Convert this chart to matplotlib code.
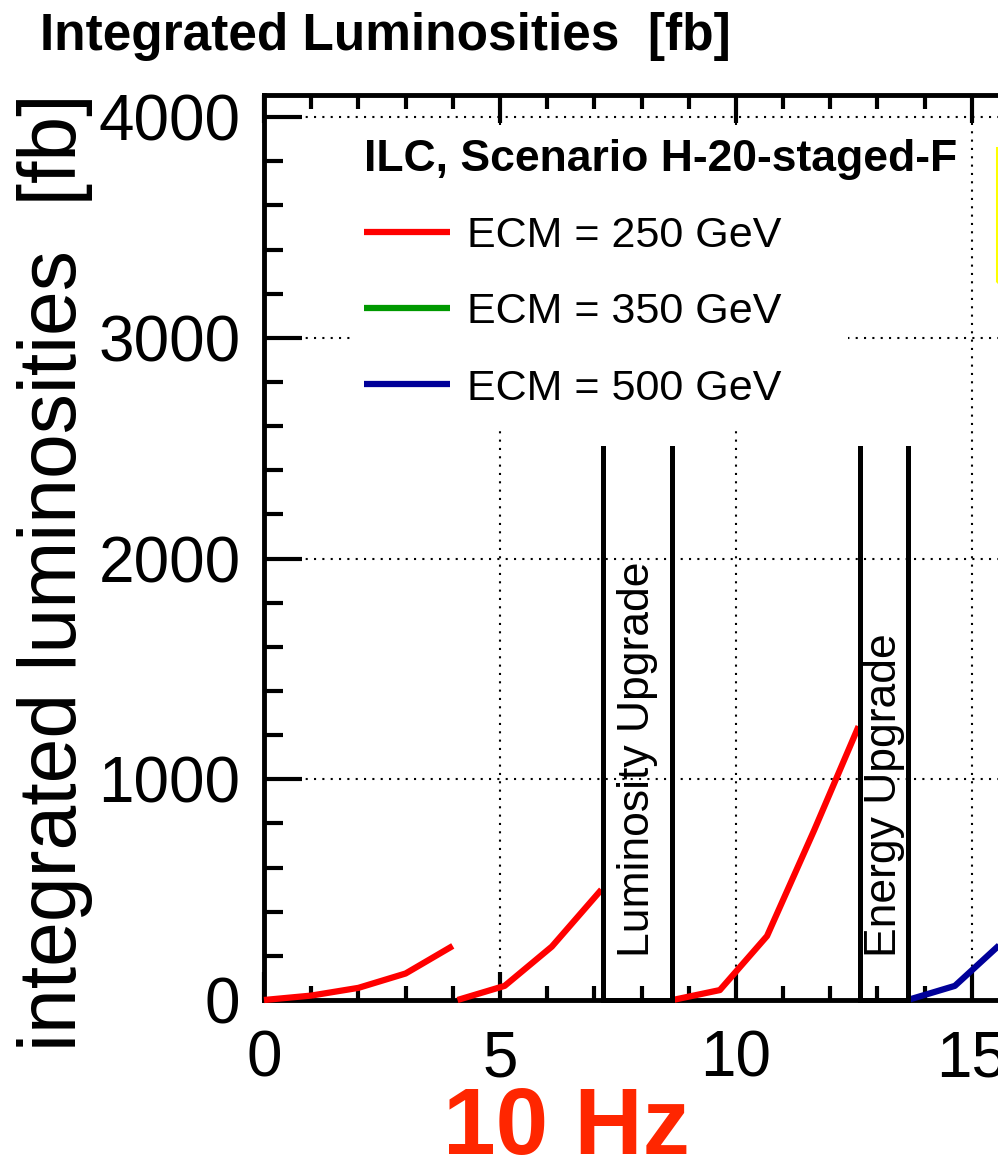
import matplotlib

matplotlib.use("Agg")
import matplotlib.pyplot as plt
from matplotlib.patches import Rectangle
from matplotlib.ticker import MultipleLocator

plt.rcParams["font.family"] = ["Liberation Sans", "DejaVu Sans"]

# --------------------------------------------------------------------------- #
# Data (years since start, integrated luminosity in fb^-1)
# --------------------------------------------------------------------------- #
years_250_a = [0.0, 1.0, 2.0, 3.0, 4.0]
lumi_250_a = [0, 20, 55, 120, 245]
years_250_b = [4.1, 5.1, 6.1, 7.15]
lumi_250_b = [0, 64, 242, 500]
years_250_c = [8.66, 9.66, 10.66, 11.66, 12.6]
lumi_250_c = [0, 45, 290, 770, 1240]
years_350 = []
lumi_350 = []
years_500 = [13.64, 14.64, 15.64, 16.64]
lumi_500 = [0, 64, 260, 520]

upgrade_names = ["Luminosity Upgrade", "Energy Upgrade"]
upgrade_start = [7.19, 12.64]
upgrade_end = [8.65, 13.64]
upgrade_height = 2500

labels = ["ECM = 250 GeV", "ECM = 350 GeV", "ECM = 500 GeV"]
colors = ["#ff0000", "#009900", "#000099"]

W, H = 998, 1164

fig = plt.figure(figsize=(W / 100, H / 100), dpi=100)
ax = fig.add_axes([264 / W, 1 - 1000 / H, 991 / W, 905 / H])
ax.set_xlim(0, 21)
ax.set_ylim(0, 4100)

# frame / ticks in ROOT style
for sp in ax.spines.values():
    sp.set_linewidth(3.5)
ax.xaxis.set_major_locator(MultipleLocator(5))
ax.xaxis.set_minor_locator(MultipleLocator(1))
ax.yaxis.set_major_locator(MultipleLocator(1000))
ax.yaxis.set_minor_locator(MultipleLocator(200))
ax.tick_params(which="both", direction="in", top=True, right=True, width=3, labelsize=46)
ax.tick_params(axis="y", which="major", length=27, pad=17)
ax.tick_params(axis="y", which="minor", length=14)
ax.tick_params(axis="x", which="major", length=20, pad=21)
ax.tick_params(axis="x", which="minor", length=10)
ax.set_axisbelow(True)
ax.grid(True, which="major", color="black", lw=1.5, ls=(0, (1, 3)))

ax.set_ylabel("integrated luminosities  [fb]", fontsize=58)
ax.yaxis.set_label_coords(-0.1726, 0.473)

# white legend background hiding the grid
ax.add_patch(Rectangle((1.82, 2591), 10.55, 1370, facecolor="white",
                       edgecolor="none", zorder=1))

# curves
kw = dict(lw=4.5, zorder=3, clip_on=False, solid_capstyle="butt")
h250, = ax.plot(years_250_a, lumi_250_a, color=colors[0], label=labels[0], **kw)
ax.plot(years_250_b, lumi_250_b, color=colors[0], **kw)
ax.plot(years_250_c, lumi_250_c, color=colors[0], **kw)
h350, = ax.plot(years_350, lumi_350, color=colors[1], label=labels[1], **kw)
h500, = ax.plot(years_500, lumi_500, color=colors[2], label=labels[2], **kw)

# upgrade periods
for name, s, e in zip(upgrade_names, upgrade_start, upgrade_end):
    ax.plot([s, s, e, e], [upgrade_height, 0, 0, upgrade_height], color="black",
            lw=3.6, zorder=4, clip_on=False, solid_joinstyle="miter")
    ax.text((s + e) / 2, 195, name, rotation=90, ha="center", va="bottom",
            fontsize=32, zorder=4)

# edge of the (cropped) yellow box on the right
ax.add_patch(Rectangle((15.53, 3253), 6, 607, fill=False, edgecolor="#ffff00",
                       lw=2.2, zorder=2))

leg = ax.legend(handles=[h250, h350, h500], loc="upper left",
                bbox_to_anchor=(364 / W, 1 - 139 / H), bbox_transform=fig.transFigure,
                frameon=False, fontsize=31, title="ILC, Scenario H-20-staged-F",
                title_fontproperties={"weight": "bold", "size": 32}, alignment="left",
                handlelength=2.0, handletextpad=0.4, labelspacing=0.84,
                borderpad=0, borderaxespad=0)
leg.set_zorder(6)

fig.text(40 / W, 1 - 50 / H, "Integrated Luminosities  [fb]", fontsize=37,
         fontweight="bold", ha="left", va="baseline")
fig.text(566 / W, 1 - 1154 / H, "10 Hz", fontsize=68, fontweight="bold",
         color="#ff2600", ha="center", va="baseline")

fig.savefig("out.png", dpi=100)
